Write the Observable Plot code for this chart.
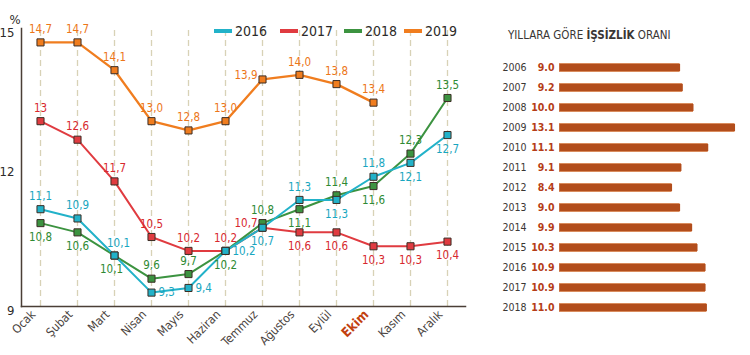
<!DOCTYPE html>
<html><head><meta charset="utf-8">
<script src="https://cdn.jsdelivr.net/npm/d3@7"></script>
<script src="https://cdn.jsdelivr.net/npm/@observablehq/plot@0.6"></script>
<style>
body{margin:0;background:#fff;}
#wrap{position:relative;width:750px;height:355px;overflow:hidden;font-family:"DejaVu Sans Condensed","DejaVu Sans",sans-serif;}
#left,#right{position:absolute;top:0;}
#left{left:0;} #right{left:490px;}
.sw{position:absolute;top:29px;width:18px;height:4px;}
.lab{position:absolute;top:22px;font-size:14px;line-height:18px;color:#2d2a28;}
.title{position:absolute;left:508px;top:28px;font-size:11.5px;line-height:15px;color:#3a3634;}
</style></head><body><div id="wrap"><div id="left"></div><div id="right"></div>
<div id="legend"></div>
<div class="title">YILLARA GÖRE <b>İŞSİZLİK</b> ORANI</div>
</div>
<script>
const months = ["Ocak","Şubat","Mart","Nisan","Mayıs","Haziran","Temmuz","Ağustos","Eylül","Ekim","Kasım","Aralık"];
const seriesNames = ["2016","2017","2018","2019"];
const values2016 = [11.1,10.9,10.1,9.3,9.4,10.2,10.7,11.3,11.3,11.8,12.1,12.7];
const values2017 = [13.0,12.6,11.7,10.5,10.2,10.2,10.7,10.6,10.6,10.3,10.3,10.4];
const values2018 = [10.8,10.6,10.1,9.6,9.7,10.2,10.8,11.1,11.4,11.6,12.3,13.5];
const values2019 = [14.7,14.7,14.1,13.0,12.8,13.0,13.9,14.0,13.8,13.4];
const yTicks = [9,12,15];
const labelExceptions = {"2017|Ocak": "13"};
const highlightMonth = "Ekim";

const years = [2006,2007,2008,2009,2010,2011,2012,2013,2014,2015,2016,2017,2018];
const annualRates = [9.0,9.2,10.0,13.1,11.1,9.1,8.4,9.0,9.9,10.3,10.9,10.9,11.0];

// styling (label placement per point)
const place2016 = ["a","a","ar","r","r","r","b","a","b","a","b","b"];
const place2017 = ["a","a","a","a","a","a","l","b","b","b","b","b"];
const place2018 = ["b","b","bl","a","a","b","a","b","a","b","a","a"];
const place2019 = ["a","a","a","a","a","a","l","a","a","a"];

const lineColors = {"2016":"#22b2c9","2017":"#e03b40","2018":"#3c9340","2019":"#f07d1f"};
const textColors = {"2016":"#18a6c0","2017":"#d7282e","2018":"#2e8a33","2019":"#ec7619"};
const legendX = {"2016":214,"2017":280,"2018":344,"2019":404};

const fontFamily = '"DejaVu Sans Condensed","DejaVu Sans",sans-serif';
const valuesBy = {"2016":values2016,"2017":values2017,"2018":values2018,"2019":values2019};
const placeBy = {"2016":place2016,"2017":place2017,"2018":place2018,"2019":place2019};
const fmt = v => d3.format(".1f")(v).replace(".", ",");
const rows = [];
for (const s of seriesNames) {
  valuesBy[s].forEach((v,i) => {
    const m = months[i];
    rows.push({series:s, month:m, value:v, label: labelExceptions[s+"|"+m] ?? fmt(v), place: placeBy[s][i]});
  });
}
const drawOrder = ["2017","2018","2016","2019"];
const style = {fontFamily, background:"transparent"};

const marks = [
  Plot.ruleX(months, {x: d=>d, y1: ()=>9, y2: ()=>15, stroke:"#d8d2b6", strokeWidth:1.3, strokeDasharray:"6,4"}),
  Plot.frame({anchor:"left", stroke:"#4a3e36", strokeWidth:1.5}),
  Plot.frame({anchor:"bottom", stroke:"#4a3e36", strokeWidth:1.5}),
  Plot.text(yTicks, {y: d=>d, text: d=>String(d), frameAnchor:"left", textAnchor:"end", dx:-7, dy:4, fontSize:13, fill:"#2d2a28"}),
  Plot.text(["%"], {frameAnchor:"top-left", text: d=>d, dx:-12, dy:-14, fontSize:13, fill:"#2d2a28"}),
  Plot.text(months, {filter: d=>d!==highlightMonth, x:d=>d, y:()=>9, text:d=>d, rotate:-45, textAnchor:"end", dx:-7, dy:6, fontSize:12, fill:"#4a4340"}),
  Plot.text(months, {filter: d=>d===highlightMonth, x:d=>d, y:()=>9, text:d=>d, rotate:-45, textAnchor:"end", dx:-7, dy:6, fontSize:13, fontWeight:"bold", fill:"#c2410f"})
];
for (const s of drawOrder) {
  const data = rows.filter(r=>r.series===s);
  marks.push(Plot.line(data, {x:"month", y:"value", stroke: lineColors[s], strokeWidth: s==="2019"?2.3:2}));
}
for (const s of drawOrder) {
  const data = rows.filter(r=>r.series===s);
  marks.push(Plot.dot(data, {x:"month", y:"value", symbol:"square", r:4, fill: lineColors[s], stroke:"#3b2d25", strokeWidth:1}));
}
const placements = {
  a:{dx:0,dy:-13,textAnchor:"middle"},
  b:{dx:0,dy:14,textAnchor:"middle"},
  l:{dx:-5,dy:-4,textAnchor:"end"},
  r:{dx:7,dy:0,textAnchor:"start"},
  ar:{dx:4,dy:-12,textAnchor:"middle"},
  bl:{dx:-3,dy:14,textAnchor:"middle"}
};
for (const s of drawOrder) {
  for (const [k,p] of Object.entries(placements)) {
    const data = rows.filter(r=>r.series===s && r.place===k);
    if (!data.length) continue;
    marks.push(Plot.text(data, {x:"month", y:"value", text:"label", ...p, fontSize:11.5, fill:textColors[s]}));
  }
}

const left = Plot.plot({
  width:480, height:355,
  marginLeft:21, marginRight:15, marginTop:28, marginBottom:49,
  style,
  x:{type:"point", domain:months, range:[39,447], padding:0, axis:null},
  y:{domain:[9,15], range:[306,28], axis:null},
  marks
});
document.getElementById("left").appendChild(left);

const legend = document.getElementById("legend");
for (const s of seriesNames) {
  legend.insertAdjacentHTML("beforeend", `<span class="sw" style="left:${legendX[s]}px;background:${lineColors[s]}"></span><span class="lab" style="left:${legendX[s]+21}px">${s}</span>`);
}

const bars = years.map((y,i)=>({year:y, value:annualRates[i]}));
const right = Plot.plot({
  width:260, height:355,
  marginLeft:0, marginRight:0, marginTop:0, marginBottom:0,
  style,
  x:{domain:[0,14], range:[69, 69+14*13.4], axis:null},
  y:{type:"point", domain:years, range:[65,309], padding:0, axis:null},
  marks:[
    Plot.ruleY(bars, {y:"year", x1:()=>0, x2:"value", stroke:"#d98c5e", strokeWidth:9}),
    Plot.ruleY(bars, {y:"year", x1:()=>0, x2:"value", stroke:"#b24d1c", strokeWidth:7, dx:0.5}),
    Plot.text(bars, {y:"year", text:d=>String(d.year), frameAnchor:"left", dx:36, textAnchor:"end", fontSize:10.5, fill:"#3a3634"}),
    Plot.text(bars, {y:"year", text:d=>d3.format(".1f")(d.value), frameAnchor:"left", dx:64, textAnchor:"end", fontSize:10.5, fontWeight:"bold", fill:"#b53d17"})
  ]
});
document.getElementById("right").appendChild(right);
</script>
</body></html>
